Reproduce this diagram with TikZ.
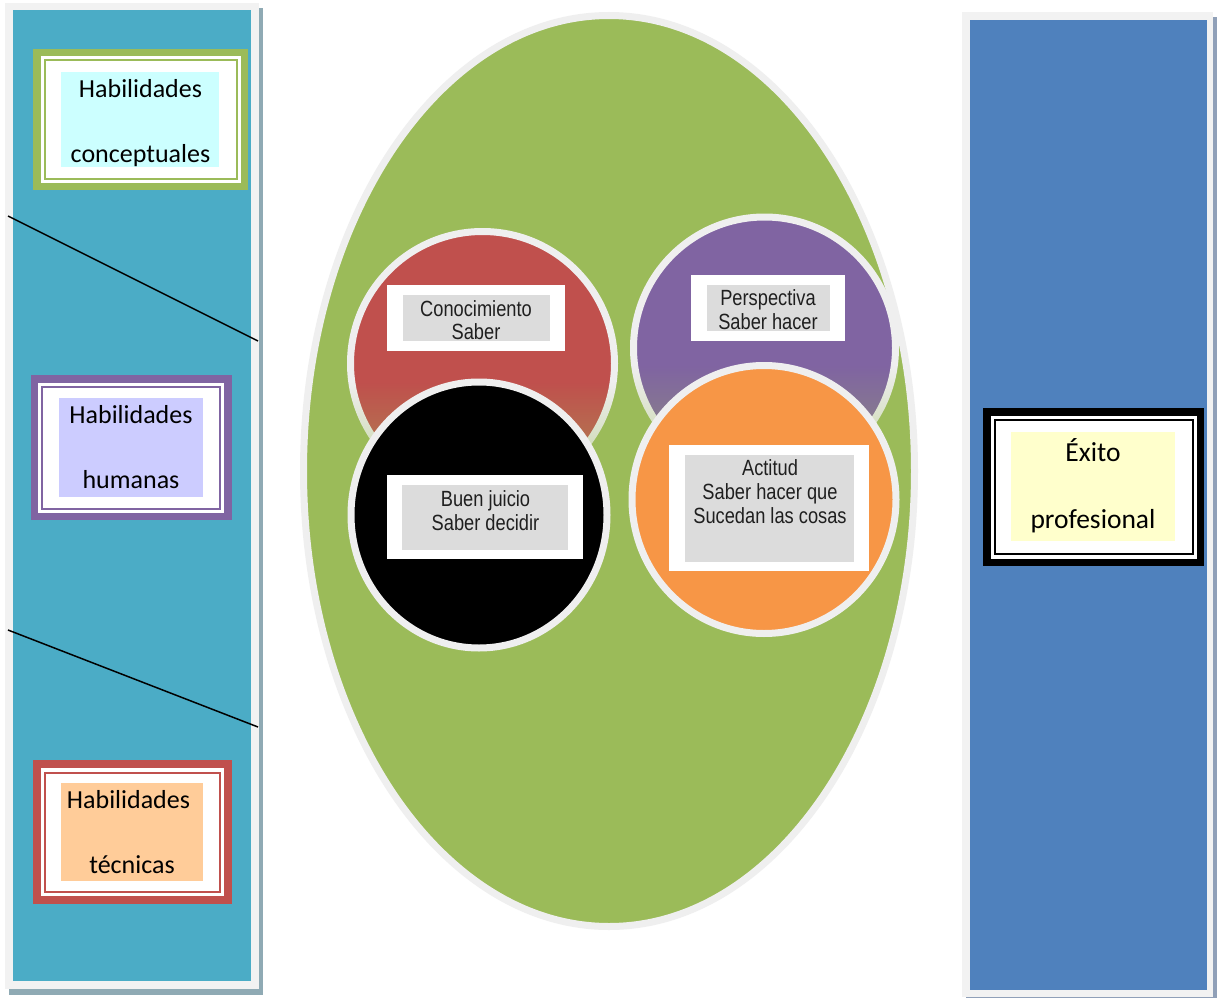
\documentclass[tikz,border=0pt]{standalone}
\usepackage{fontspec}
\usetikzlibrary{shapes.geometric,fadings}
\newfontfamily\calfont{Carlito}
\newfontfamily\narfont[FakeStretch=0.83]{Liberation Sans}
\definecolor{tealP}{HTML}{4BACC6}
\definecolor{blueP}{HTML}{4F81BD}
\definecolor{hgreen}{HTML}{9BBB59}
\definecolor{hpurple}{HTML}{8064A2}
\definecolor{hred}{HTML}{C0504D}
\definecolor{horange}{HTML}{F79646}
\definecolor{cyanbg}{HTML}{CCFFFF}
\definecolor{lavbg}{HTML}{CCCCFF}
\definecolor{peachbg}{HTML}{FFCC99}
\definecolor{yellbg}{HTML}{FFFFCC}
\definecolor{lblgray}{HTML}{DCDCDC}
\definecolor{bordergray}{HTML}{F2F2F2}
\definecolor{ringgray}{HTML}{EFEFEF}
\definecolor{shadowL}{HTML}{8FAAB4}
\definecolor{shadowR}{HTML}{90A0B8}
\begin{document}
\begin{tikzpicture}[x=1pt,y=-1pt,
  hab/.style={font=\calfont\fontsize{26}{30}\selectfont, anchor=base, inner sep=0pt},
  exi/.style={font=\calfont\fontsize{27.5}{30}\selectfont, anchor=base, inner sep=0pt},
  ctext/.style={font=\narfont\fontsize{22}{24}\selectfont, anchor=base, inner sep=0pt, text=black!88},
  ring/.style={draw=ringgray, line width=7pt, inner sep=0pt},
  thinframe/.style={line width=2pt}]
\useasboundingbox[fill=white] (0,0) rectangle (1219,998);

% ---------- left panel ----------
\fill[shadowL] (9,8) rectangle (263,995);
\fill[bordergray] (5,3) rectangle (259,989);
\fill[tealP] (13,10) rectangle (251,981);

\coordinate (l1a) at (8,216);
\coordinate (l1b) at (258,341);
\coordinate (l2a) at (8,630);
\coordinate (l2b) at (258,727);
\draw[line width=1.5pt] (l1a) -- (l1b);
\draw[line width=1.5pt] (l2a) -- (l2b);

% conceptuales
\fill[hgreen] (33,49) rectangle (248,190);
\fill[white] (40.5,56.5) rectangle (240.5,182.5);
\draw[hgreen, thinframe] (44.5,60.5) rectangle (236.5,178.5);
\fill[cyanbg] (61,72) rectangle (219,167);
\node[hab] (c1) at (140.5,98) {Habilidades};
\node[hab] (c2) at (140.5,162) {conceptuales};

% humanas
\fill[hpurple] (31,375) rectangle (232,520);
\fill[white] (38,382.5) rectangle (224,512.5);
\draw[hpurple, thinframe] (42,386.5) rectangle (220,508.5);
\fill[lavbg] (59,398) rectangle (203,497);
\node[hab] (h1) at (131,423) {Habilidades};
\node[hab] (h2) at (131,488) {humanas};

% tecnicas
\fill[hred] (33,760) rectangle (232,904);
\fill[white] (40.5,768) rectangle (224,896);
\draw[hred, thinframe] (44.5,772.5) rectangle (219.5,892);
\fill[peachbg] (61,783) rectangle (203,881);
\node[hab] (t1) at (128.5,808) {Habilidades};
\node[hab] (t2) at (132,873) {técnicas};

% ---------- right panel ----------
\fill[shadowR] (966,17) rectangle (1217,998);
\fill[bordergray] (962,12) rectangle (1213,997);
\fill[blueP] (970,20) rectangle (1207,990);
\fill[black] (983,408) rectangle (1204,566);
\fill[white] (990.5,415.5) rectangle (1197,558.5);
\draw[black, thinframe] (995,420) rectangle (1193,554);
\fill[yellbg] (1011,432) rectangle (1175,541);
\node[exi] (e1) at (1093,461) {Éxito};
\node[exi] (e2) at (1093,528) {profesional};

% ---------- central ellipse ----------
\node[ellipse, ring, fill=hgreen, minimum width=611, minimum height=911] (big) at (609,471) {};

\node[circle, ring, fill=hred, minimum size=264] (cred) at (482.5,363.5) {};
\node[circle, ring, fill=hpurple, minimum size=262] (cpur) at (764.5,348) {};

% faded lower parts of the upper circles
\begin{scope}
  \clip (482.5,363.5) circle [radius=136.5];
  \fill[hgreen, path fading=north, opacity=0.5] (340,382) rectangle (625,480);
\end{scope}
\begin{scope}
  \clip (764.5,348) circle [radius=135.5];
  \fill[hgreen, path fading=north, opacity=0.5] (625,366) rectangle (905,470);
\end{scope}

\node[ellipse, ring, fill=black, minimum width=256, minimum height=266] (cblk) at (479,515) {};
\node[ellipse, ring, fill=horange, minimum width=264, minimum height=268] (cora) at (764,499.5) {};

% labels
\fill[white] (387,285) rectangle (565,351);
\fill[lblgray] (403,295) rectangle (550,341);
\node[ctext] (k1) at (476,316) {Conocimiento};
\node[ctext] (k2) at (476,339) {Saber};

\fill[white] (691,275) rectangle (845,341);
\fill[lblgray] (707,285) rectangle (830,331);
\node[ctext] (p1) at (768,305) {Perspectiva};
\node[ctext] (p2) at (768,329) {Saber hacer};

\fill[white] (387,475) rectangle (583,559);
\fill[lblgray] (402,485) rectangle (568,550);
\node[ctext] (b1) at (485.5,506) {Buen juicio};
\node[ctext] (b2) at (485.5,530) {Saber decidir};

\fill[white] (669,445) rectangle (869,571);
\fill[lblgray] (685,455) rectangle (854,562);
\node[ctext] (a1) at (770,475) {Actitud};
\node[ctext] (a2) at (770,499) {Saber hacer que};
\node[ctext] (a3) at (770,523) {Sucedan las cosas};
\end{tikzpicture}
\end{document}
